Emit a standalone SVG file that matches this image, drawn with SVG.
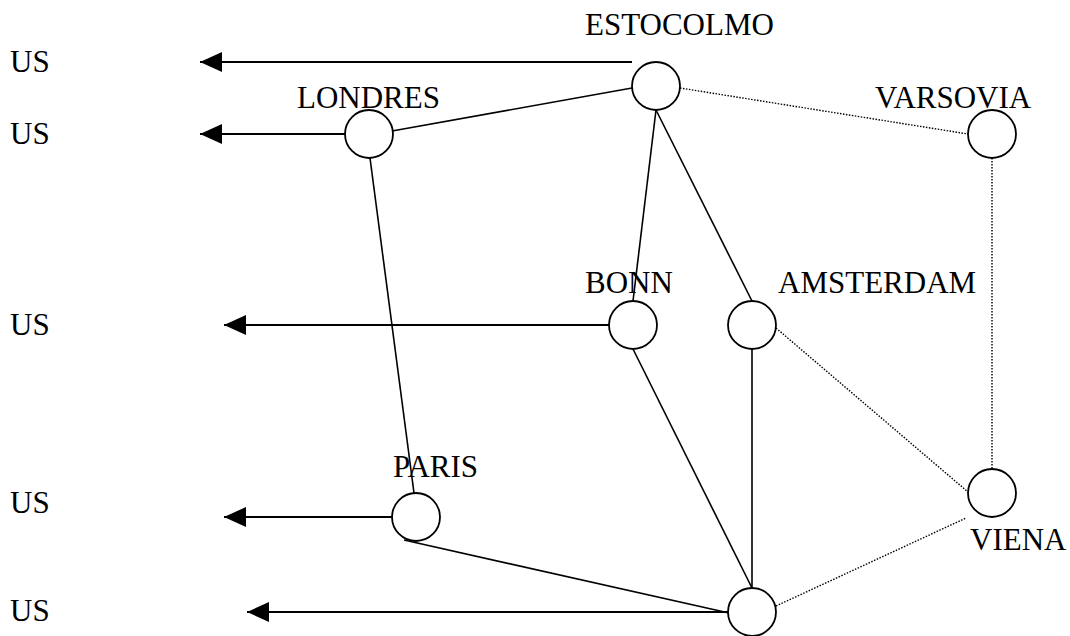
<svg xmlns="http://www.w3.org/2000/svg" width="1070" height="636" viewBox="0 0 1070 636">
<style>
.n{fill:#fff;stroke:#000;stroke-width:1.8}
.t{font-family:"Liberation Serif","Times New Roman",serif;font-size:31px;fill:#000}
.s{stroke:#000;stroke-width:1.6;fill:none}
.d{stroke:#000;stroke-width:1.4;stroke-dasharray:1.5 1.5;fill:none}
.a{stroke:#000;stroke-width:2;fill:none;marker-end:url(#ah)}
</style>
<defs>
<marker id="ah" markerUnits="userSpaceOnUse" markerWidth="24" markerHeight="22" refX="22" refY="10" orient="auto">
<path d="M0,0 L22,10 L0,20 Z" fill="#000"/>
</marker>
</defs>
<rect width="1070" height="636" fill="#fff"/>
<g id="connectors">
<line class="a" x1="632" y1="62" x2="200" y2="62"/>
<line class="a" x1="345" y1="134" x2="200" y2="134"/>
<line class="a" x1="609" y1="325" x2="224" y2="325"/>
<line class="a" x1="392" y1="517" x2="224" y2="517"/>
<line class="a" x1="728" y1="612" x2="247" y2="612"/>
<line class="s" x1="392" y1="131" x2="632" y2="88"/>
<line class="s" x1="656" y1="110" x2="633" y2="301"/>
<line class="s" x1="656" y1="110" x2="752" y2="301"/>
<line class="s" x1="370" y1="158" x2="414" y2="493"/>
<line class="s" x1="633" y1="349" x2="752" y2="588"/>
<line class="s" x1="752" y1="349" x2="752" y2="588"/>
<line class="s" x1="404" y1="540" x2="729" y2="613"/>
<line class="d" x1="680" y1="88" x2="968" y2="134"/>
<line class="d" x1="992" y1="158" x2="992" y2="469"/>
<line class="d" x1="776" y1="328" x2="968" y2="492"/>
<line class="d" x1="776" y1="606" x2="966" y2="518"/>
</g>
<g id="us-labels">
<text class="t" x="10" y="72">US</text>
<text class="t" x="10" y="144">US</text>
<text class="t" x="10" y="335">US</text>
<text class="t" x="10" y="513">US</text>
<text class="t" x="10" y="621">US</text>
</g>
<g id="estocolmo"><circle class="n" cx="656" cy="86" r="24"/><text class="t" x="585" y="35">ESTOCOLMO</text></g>
<g id="londres"><circle class="n" cx="369" cy="134" r="24"/><text class="t" x="297" y="108">LONDRES</text></g>
<g id="varsovia"><circle class="n" cx="992" cy="134" r="24"/><text class="t" x="875" y="108">VARSOVIA</text></g>
<g id="bonn"><circle class="n" cx="633" cy="325" r="24"/><text class="t" x="585" y="293">BONN</text></g>
<g id="amsterdam"><circle class="n" cx="752" cy="325" r="24"/><text class="t" x="778" y="293">AMSTERDAM</text></g>
<g id="paris"><circle class="n" cx="416" cy="517" r="24"/><text class="t" x="393" y="477">PARIS</text></g>
<g id="viena"><circle class="n" cx="992" cy="493" r="24"/><text class="t" x="970" y="550">VIENA</text></g>
<g id="node-bottom"><circle class="n" cx="752" cy="612" r="24"/></g>
</svg>
